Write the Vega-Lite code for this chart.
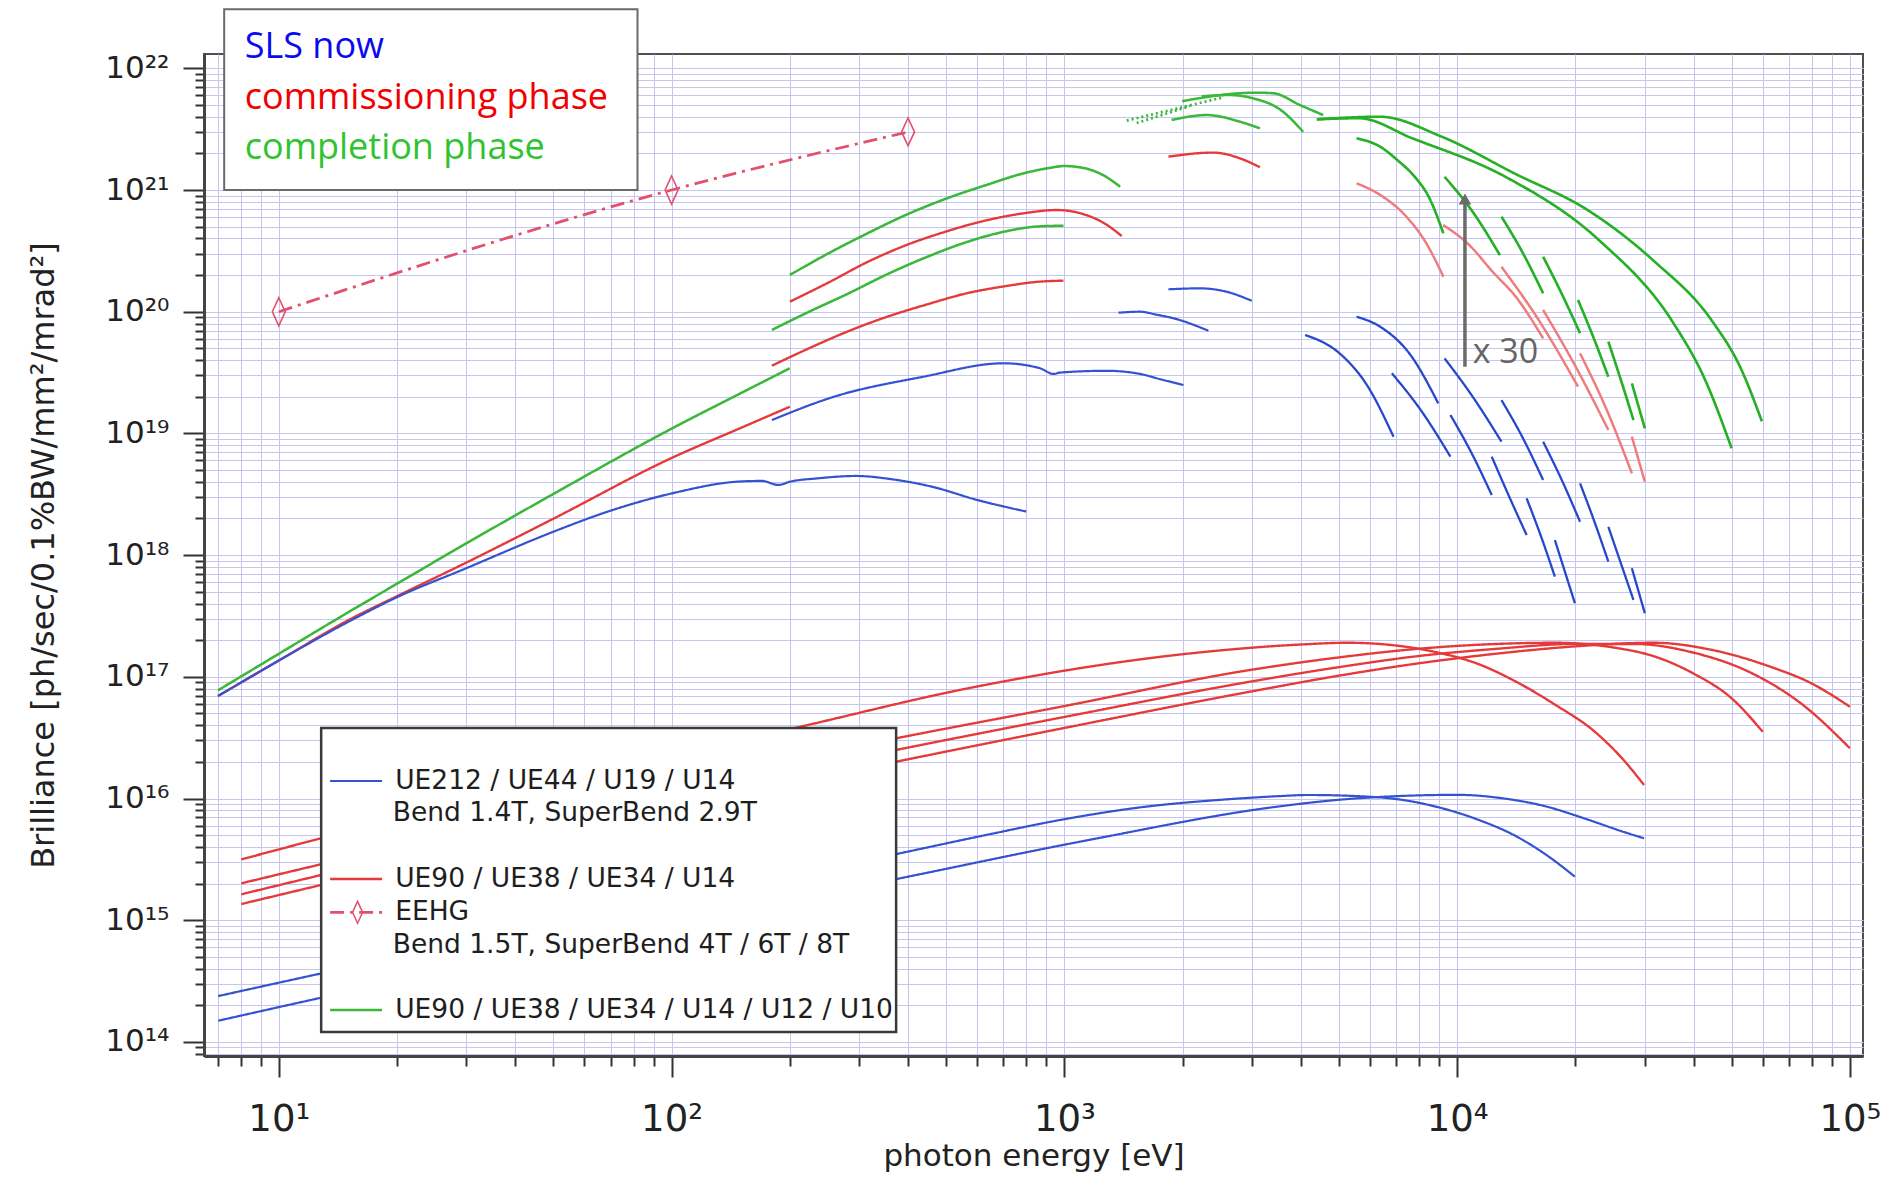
{
"$schema": "https://vega.github.io/schema/vega-lite/v6.json",
"width": 1659, "height": 1002,
"autosize": {"type": "none"},
"padding": {"left": 204, "top": 54, "right": 23, "bottom": 121},
"background": "white",
"config": {"view": {"stroke": "#505050", "strokeWidth": 2}},
"datasets": {
"curves": [
{"s":"g_low","g":"compl","E":7,"B":7.74e16},{"s":"g_low","g":"compl","E":10,"B":1.545e17},{"s":"g_low","g":"compl","E":15,"B":3.38e17},{"s":"g_low","g":"compl","E":20,"B":5.82e17},{"s":"g_low","g":"compl","E":30,"B":1.247e18},{"s":"g_low","g":"compl","E":50,"B":3.18e18},{"s":"g_low","g":"compl","E":100,"B":1.094e19},{"s":"g_low","g":"compl","E":150,"B":2.14e19},{"s":"g_low","g":"compl","E":200,"B":3.43e19},
{"s":"r_low","g":"comm","E":7,"B":6.95e16},{"s":"r_low","g":"comm","E":10,"B":1.36e17},{"s":"r_low","g":"comm","E":15,"B":2.91e17},{"s":"r_low","g":"comm","E":20,"B":4.6e17},{"s":"r_low","g":"comm","E":30,"B":8.67e17},{"s":"r_low","g":"comm","E":50,"B":1.99e18},{"s":"r_low","g":"comm","E":100,"B":6.28e18},{"s":"r_low","g":"comm","E":150,"B":1.109e19},{"s":"r_low","g":"comm","E":200,"B":1.656e19},
{"s":"b_low","g":"now","E":7,"B":6.95e16},{"s":"b_low","g":"now","E":10,"B":1.36e17},{"s":"b_low","g":"now","E":15,"B":2.82e17},{"s":"b_low","g":"now","E":20,"B":4.51e17},{"s":"b_low","g":"now","E":30,"B":7.8e17},{"s":"b_low","g":"now","E":50,"B":1.556e18},{"s":"b_low","g":"now","E":70,"B":2.32e18},{"s":"b_low","g":"now","E":100,"B":3.21e18},{"s":"b_low","g":"now","E":150,"B":4.03e18},{"s":"b_low","g":"now","E":170,"B":4.07e18},{"s":"b_low","g":"now","E":187,"B":3.77e18},{"s":"b_low","g":"now","E":200,"B":4.01e18},{"s":"b_low","g":"now","E":235,"B":4.27e18},{"s":"b_low","g":"now","E":295,"B":4.47e18},{"s":"b_low","g":"now","E":364,"B":4.2e18},{"s":"b_low","g":"now","E":460,"B":3.65e18},{"s":"b_low","g":"now","E":600,"B":2.84e18},{"s":"b_low","g":"now","E":800,"B":2.28e18},
{"s":"g_up2","g":"compl","E":200,"B":2.004e20},{"s":"g_up2","g":"compl","E":251,"B":3.02e20},{"s":"g_up2","g":"compl","E":316,"B":4.42e20},{"s":"g_up2","g":"compl","E":398,"B":6.31e20},{"s":"g_up2","g":"compl","E":501,"B":8.51e20},{"s":"g_up2","g":"compl","E":631,"B":1.096e21},{"s":"g_up2","g":"compl","E":794,"B":1.38e21},{"s":"g_up2","g":"compl","E":912,"B":1.514e21},{"s":"g_up2","g":"compl","E":1000,"B":1.574e21},{"s":"g_up2","g":"compl","E":1122,"B":1.514e21},{"s":"g_up2","g":"compl","E":1259,"B":1.318e21},{"s":"g_up2","g":"compl","E":1387,"B":1.064e21},
{"s":"r_up2","g":"comm","E":200,"B":1.208e20},{"s":"r_up2","g":"comm","E":251,"B":1.738e20},{"s":"r_up2","g":"comm","E":316,"B":2.57e20},{"s":"r_up2","g":"comm","E":398,"B":3.55e20},{"s":"r_up2","g":"comm","E":501,"B":4.57e20},{"s":"r_up2","g":"comm","E":631,"B":5.62e20},{"s":"r_up2","g":"comm","E":794,"B":6.46e20},{"s":"r_up2","g":"comm","E":955,"B":6.85e20},{"s":"r_up2","g":"comm","E":1122,"B":6.31e20},{"s":"r_up2","g":"comm","E":1259,"B":5.37e20},{"s":"r_up2","g":"comm","E":1400,"B":4.19e20},
{"s":"g_mid","g":"compl","E":180,"B":7.08e19},{"s":"g_mid","g":"compl","E":224,"B":1.0e20},{"s":"g_mid","g":"compl","E":282,"B":1.413e20},{"s":"g_mid","g":"compl","E":355,"B":2.04e20},{"s":"g_mid","g":"compl","E":447,"B":2.82e20},{"s":"g_mid","g":"compl","E":562,"B":3.72e20},{"s":"g_mid","g":"compl","E":708,"B":4.57e20},{"s":"g_mid","g":"compl","E":851,"B":5.01e20},{"s":"g_mid","g":"compl","E":995,"B":5.09e20},
{"s":"r_mid","g":"comm","E":180,"B":3.6e19},{"s":"r_mid","g":"comm","E":224,"B":5.01e19},{"s":"r_mid","g":"comm","E":282,"B":6.92e19},{"s":"r_mid","g":"comm","E":355,"B":9.12e19},{"s":"r_mid","g":"comm","E":447,"B":1.148e20},{"s":"r_mid","g":"comm","E":562,"B":1.413e20},{"s":"r_mid","g":"comm","E":708,"B":1.622e20},{"s":"r_mid","g":"comm","E":851,"B":1.758e20},{"s":"r_mid","g":"comm","E":995,"B":1.8e20},
{"s":"b_mid","g":"now","E":180,"B":1.288e19},{"s":"b_mid","g":"now","E":259,"B":2.0e19},{"s":"b_mid","g":"now","E":437,"B":2.92e19},{"s":"b_mid","g":"now","E":700,"B":3.77e19},{"s":"b_mid","g":"now","E":867,"B":3.43e19},{"s":"b_mid","g":"now","E":938,"B":3.08e19},{"s":"b_mid","g":"now","E":975,"B":3.16e19},{"s":"b_mid","g":"now","E":1282,"B":3.27e19},{"s":"b_mid","g":"now","E":1560,"B":3.08e19},{"s":"b_mid","g":"now","E":1754,"B":2.79e19},{"s":"b_mid","g":"now","E":2010,"B":2.5e19},
{"s":"b_arcA","g":"now","E":1374,"B":9.82e19},{"s":"b_arcA","g":"now","E":1560,"B":1.0e20},{"s":"b_arcA","g":"now","E":1718,"B":9.45e19},{"s":"b_arcA","g":"now","E":1897,"B":8.83e19},{"s":"b_arcA","g":"now","E":2328,"B":6.98e19},
{"s":"b_arcB","g":"now","E":1841,"B":1.528e20},{"s":"b_arcB","g":"now","E":2213,"B":1.556e20},{"s":"b_arcB","g":"now","E":2588,"B":1.459e20},{"s":"b_arcB","g":"now","E":3000,"B":1.23e20},
{"s":"r_arc","g":"comm","E":1841,"B":1.879e21},{"s":"r_arc","g":"comm","E":2393,"B":2.03e21},{"s":"r_arc","g":"comm","E":2800,"B":1.82e21},{"s":"r_arc","g":"comm","E":3148,"B":1.538e21},
{"s":"g_arc","g":"compl","E":1875,"B":3.76e21},{"s":"g_arc","g":"compl","E":2307,"B":4.13e21},{"s":"g_arc","g":"compl","E":2800,"B":3.64e21},{"s":"g_arc","g":"compl","E":3148,"B":3.21e21},
{"s":"g_dot1","g":"compl_dot","E":1442,"B":3.72e21},{"s":"g_dot1","g":"compl_dot","E":2541,"B":5.78e21},
{"s":"g_dot2","g":"compl_dot","E":1528,"B":3.55e21},{"s":"g_dot2","g":"compl_dot","E":2089,"B":4.9e21},
{"s":"g_topA","g":"compl","E":1995,"B":5.37e21},{"s":"g_topA","g":"compl","E":2800,"B":6.24e21},{"s":"g_topA","g":"compl","E":3090,"B":6.31e21},{"s":"g_topA","g":"compl","E":3404,"B":6.24e21},{"s":"g_topA","g":"compl","E":3981,"B":4.99e21},{"s":"g_topA","g":"compl","E":4560,"B":4.13e21},
{"s":"g_topB","g":"compl","E":2239,"B":5.89e21},{"s":"g_topB","g":"compl","E":2630,"B":6.03e21},{"s":"g_topB","g":"compl","E":3027,"B":5.66e21},{"s":"g_topB","g":"compl","E":3548,"B":4.57e21},{"s":"g_topB","g":"compl","E":4055,"B":3.01e21},
{"s":"g_c1","g":"compl_hx","E":4395,"B":3.81e21},{"s":"g_c1","g":"compl_hx","E":6368,"B":4.0e21},{"s":"g_c1","g":"compl_hx","E":9120,"B":2.75e21},{"s":"g_c1","g":"compl_hx","E":14125,"B":1.349e21},{"s":"g_c1","g":"compl_hx","E":21380,"B":6.92e20},{"s":"g_c1","g":"compl_hx","E":31620,"B":2.63e20},{"s":"g_c1","g":"compl_hx","E":44670,"B":8.32e19},{"s":"g_c1","g":"compl_hx","E":52480,"B":3.55e19},{"s":"g_c1","g":"compl_hx","E":59700,"B":1.259e19},
{"s":"g_c2","g":"compl_hx","E":4395,"B":3.81e21},{"s":"g_c2","g":"compl_hx","E":5623,"B":3.89e21},{"s":"g_c2","g":"compl_hx","E":7691,"B":2.66e21},{"s":"g_c2","g":"compl_hx","E":13270,"B":1.285e21},{"s":"g_c2","g":"compl_hx","E":22960,"B":3.88e20},{"s":"g_c2","g":"compl_hx","E":35560,"B":8.04e19},{"s":"g_c2","g":"compl_hx","E":42660,"B":2.82e19},{"s":"g_c2","g":"compl_hx","E":50000,"B":7.55e18},
{"s":"g_c3","g":"compl_hx","E":5546,"B":2.66e21},{"s":"g_c3","g":"compl_hx","E":6368,"B":2.27e21},{"s":"g_c3","g":"compl_hx","E":7079,"B":1.738e21},{"s":"g_c3","g":"compl_hx","E":7745,"B":1.318e21},{"s":"g_c3","g":"compl_hx","E":8511,"B":8.51e20},{"s":"g_c3","g":"compl_hx","E":9226,"B":4.41e20},
{"s":"g_d1","g":"compl_hx","E":9290,"B":1.285e21},{"s":"g_d1","g":"compl_hx","E":10960,"B":6.61e20},{"s":"g_d1","g":"compl_hx","E":12850,"B":2.92e20},
{"s":"g_d2","g":"compl_hx","E":12970,"B":6.04e20},{"s":"g_d2","g":"compl_hx","E":14660,"B":3.09e20},{"s":"g_d2","g":"compl_hx","E":16560,"B":1.416e20},
{"s":"g_d3","g":"compl_hx","E":16560,"B":2.83e20},{"s":"g_d3","g":"compl_hx","E":18450,"B":1.413e20},{"s":"g_d3","g":"compl_hx","E":20560,"B":6.65e19},
{"s":"g_d4","g":"compl_hx","E":20320,"B":1.247e20},{"s":"g_d4","g":"compl_hx","E":22230,"B":6.17e19},{"s":"g_d4","g":"compl_hx","E":24270,"B":2.92e19},
{"s":"g_d5","g":"compl_hx","E":24270,"B":5.68e19},{"s":"g_d5","g":"compl_hx","E":26120,"B":2.75e19},{"s":"g_d5","g":"compl_hx","E":28120,"B":1.288e19},
{"s":"g_d6","g":"compl_hx","E":27860,"B":2.58e19},{"s":"g_d6","g":"compl_hx","E":30060,"B":1.102e19},
{"s":"p1","g":"comm_hx","E":5546,"B":1.135e21},{"s":"p1","g":"comm_hx","E":6368,"B":9.12e20},{"s":"p1","g":"comm_hx","E":7430,"B":6.03e20},{"s":"p1","g":"comm_hx","E":8318,"B":3.72e20},{"s":"p1","g":"comm_hx","E":9226,"B":1.941e20},
{"s":"p2","g":"comm_hx","E":9226,"B":5.15e20},{"s":"p2","g":"comm_hx","E":10720,"B":3.55e20},{"s":"p2","g":"comm_hx","E":12300,"B":2.14e20},{"s":"p2","g":"comm_hx","E":14130,"B":1.318e20},{"s":"p2","g":"comm_hx","E":16560,"B":6.04e19},
{"s":"p3","g":"comm_hx","E":12970,"B":2.34e20},{"s":"p3","g":"comm_hx","E":16220,"B":8.32e19},{"s":"p3","g":"comm_hx","E":20320,"B":2.42e19},
{"s":"p4","g":"comm_hx","E":16560,"B":1.033e20},{"s":"p4","g":"comm_hx","E":19950,"B":3.63e19},{"s":"p4","g":"comm_hx","E":24270,"B":1.067e19},
{"s":"p5","g":"comm_hx","E":20560,"B":4.55e19},{"s":"p5","g":"comm_hx","E":23990,"B":1.585e19},{"s":"p5","g":"comm_hx","E":27860,"B":4.7e18},
{"s":"p6","g":"comm_hx","E":27860,"B":9.4e18},{"s":"p6","g":"comm_hx","E":30060,"B":4.01e18},
{"s":"b_a","g":"now_hx","E":4102,"B":6.44e19},{"s":"b_a","g":"now_hx","E":5012,"B":4.57e19},{"s":"b_a","g":"now_hx","E":5888,"B":2.51e19},{"s":"b_a","g":"now_hx","E":6887,"B":9.4e18},
{"s":"b_b","g":"now_hx","E":5546,"B":9.1e19},{"s":"b_b","g":"now_hx","E":6368,"B":7.53e19},{"s":"b_b","g":"now_hx","E":7586,"B":4.47e19},{"s":"b_b","g":"now_hx","E":8954,"B":1.766e19},
{"s":"b_c","g":"now_hx","E":6823,"B":3.12e19},{"s":"b_c","g":"now_hx","E":8128,"B":1.514e19},{"s":"b_c","g":"now_hx","E":9616,"B":6.44e18},
{"s":"b_d","g":"now_hx","E":9290,"B":4.14e19},{"s":"b_d","g":"now_hx","E":10960,"B":2.0e19},{"s":"b_d","g":"now_hx","E":12970,"B":8.55e18},
{"s":"b_e","g":"now_hx","E":9616,"B":1.416e19},{"s":"b_e","g":"now_hx","E":10840,"B":7.08e18},{"s":"b_e","g":"now_hx","E":12250,"B":3.12e18},
{"s":"b_f","g":"now_hx","E":12970,"B":1.879e19},{"s":"b_f","g":"now_hx","E":14660,"B":9.33e18},{"s":"b_f","g":"now_hx","E":16560,"B":4.14e18},
{"s":"b_g","g":"now_hx","E":12250,"B":6.44e18},{"s":"b_g","g":"now_hx","E":13490,"B":3.16e18},{"s":"b_g","g":"now_hx","E":15030,"B":1.462e18},
{"s":"b_h","g":"now_hx","E":16560,"B":8.55e18},{"s":"b_h","g":"now_hx","E":18450,"B":4.17e18},{"s":"b_h","g":"now_hx","E":20560,"B":1.879e18},
{"s":"b_i","g":"now_hx","E":15030,"B":2.93e18},{"s":"b_i","g":"now_hx","E":16330,"B":1.445e18},{"s":"b_i","g":"now_hx","E":17740,"B":6.65e17},
{"s":"b_j","g":"now_hx","E":20560,"B":3.89e18},{"s":"b_j","g":"now_hx","E":22340,"B":1.905e18},{"s":"b_j","g":"now_hx","E":24270,"B":8.83e17},
{"s":"b_k","g":"now_hx","E":17740,"B":1.33e18},{"s":"b_k","g":"now_hx","E":19950,"B":4.02e17},
{"s":"b_l","g":"now_hx","E":24270,"B":1.71e18},{"s":"b_l","g":"now_hx","E":28120,"B":4.28e17},
{"s":"b_m","g":"now_hx","E":27860,"B":7.8e17},{"s":"b_m","g":"now_hx","E":30060,"B":3.33e17},
{"s":"r_bm1","g":"comm","E":8.03,"B":3.16e15},{"s":"r_bm1","g":"comm","E":12.8,"B":4.71e15},{"s":"r_bm1","g":"comm","E":213,"B":3.89e16},{"s":"r_bm1","g":"comm","E":568,"B":8.04e16},{"s":"r_bm1","g":"comm","E":2104,"B":1.56e17},{"s":"r_bm1","g":"comm","E":3981,"B":1.841e17},{"s":"r_bm1","g":"comm","E":5248,"B":1.905e17},{"s":"r_bm1","g":"comm","E":7079,"B":1.799e17},{"s":"r_bm1","g":"comm","E":8913,"B":1.585e17},{"s":"r_bm1","g":"comm","E":11220,"B":1.288e17},{"s":"r_bm1","g":"comm","E":14130,"B":9.12e16},{"s":"r_bm1","g":"comm","E":17780,"B":5.89e16},{"s":"r_bm1","g":"comm","E":22390,"B":3.55e16},{"s":"r_bm1","g":"comm","E":26300,"B":2.14e16},{"s":"r_bm1","g":"comm","E":29920,"B":1.291e16},
{"s":"r_bm2","g":"comm","E":8.03,"B":2.01e15},{"s":"r_bm2","g":"comm","E":12.8,"B":2.88e15},{"s":"r_bm2","g":"comm","E":374,"B":3.13e16},{"s":"r_bm2","g":"comm","E":1000,"B":5.75e16},{"s":"r_bm2","g":"comm","E":2972,"B":1.138e17},{"s":"r_bm2","g":"comm","E":5012,"B":1.445e17},{"s":"r_bm2","g":"comm","E":7943,"B":1.698e17},{"s":"r_bm2","g":"comm","E":12590,"B":1.862e17},{"s":"r_bm2","g":"comm","E":17780,"B":1.905e17},{"s":"r_bm2","g":"comm","E":25120,"B":1.738e17},{"s":"r_bm2","g":"comm","E":31620,"B":1.479e17},{"s":"r_bm2","g":"comm","E":39810,"B":1.072e17},{"s":"r_bm2","g":"comm","E":50120,"B":6.61e16},{"s":"r_bm2","g":"comm","E":59980,"B":3.54e16},
{"s":"r_bm3","g":"comm","E":8.03,"B":1.633e15},{"s":"r_bm3","g":"comm","E":12.8,"B":2.35e15},{"s":"r_bm3","g":"comm","E":374,"B":2.51e16},{"s":"r_bm3","g":"comm","E":1000,"B":4.68e16},{"s":"r_bm3","g":"comm","E":2972,"B":9.12e16},{"s":"r_bm3","g":"comm","E":5012,"B":1.202e17},{"s":"r_bm3","g":"comm","E":7943,"B":1.479e17},{"s":"r_bm3","g":"comm","E":12590,"B":1.698e17},{"s":"r_bm3","g":"comm","E":19950,"B":1.862e17},{"s":"r_bm3","g":"comm","E":28180,"B":1.862e17},{"s":"r_bm3","g":"comm","E":39810,"B":1.585e17},{"s":"r_bm3","g":"comm","E":56230,"B":1.072e17},{"s":"r_bm3","g":"comm","E":75860,"B":5.89e16},{"s":"r_bm3","g":"comm","E":100000,"B":2.59e16},
{"s":"r_bm4","g":"comm","E":8.03,"B":1.358e15},{"s":"r_bm4","g":"comm","E":12.8,"B":1.945e15},{"s":"r_bm4","g":"comm","E":374,"B":2.01e16},{"s":"r_bm4","g":"comm","E":1000,"B":3.8e16},{"s":"r_bm4","g":"comm","E":2972,"B":7.55e16},{"s":"r_bm4","g":"comm","E":5012,"B":1.023e17},{"s":"r_bm4","g":"comm","E":7943,"B":1.288e17},{"s":"r_bm4","g":"comm","E":12590,"B":1.549e17},{"s":"r_bm4","g":"comm","E":19950,"B":1.778e17},{"s":"r_bm4","g":"comm","E":31620,"B":1.905e17},{"s":"r_bm4","g":"comm","E":44670,"B":1.66e17},{"s":"r_bm4","g":"comm","E":63100,"B":1.202e17},{"s":"r_bm4","g":"comm","E":79430,"B":8.91e16},{"s":"r_bm4","g":"comm","E":100000,"B":5.68e16},
{"s":"b_bm1","g":"now","E":7.01,"B":2.38e14},{"s":"b_bm1","g":"now","E":12.6,"B":3.61e14},{"s":"b_bm1","g":"now","E":382,"B":3.55e15},{"s":"b_bm1","g":"now","E":631,"B":5.01e15},{"s":"b_bm1","g":"now","E":1000,"B":6.76e15},{"s":"b_bm1","g":"now","E":1585,"B":8.51e15},{"s":"b_bm1","g":"now","E":2512,"B":9.77e15},{"s":"b_bm1","g":"now","E":3548,"B":1.047e16},{"s":"b_bm1","g":"now","E":4169,"B":1.069e16},{"s":"b_bm1","g":"now","E":6310,"B":1.023e16},{"s":"b_bm1","g":"now","E":8913,"B":8.51e15},{"s":"b_bm1","g":"now","E":11220,"B":6.76e15},{"s":"b_bm1","g":"now","E":14130,"B":4.9e15},{"s":"b_bm1","g":"now","E":16980,"B":3.39e15},{"s":"b_bm1","g":"now","E":19950,"B":2.28e15},
{"s":"b_bm2","g":"now","E":7.01,"B":1.493e14},{"s":"b_bm2","g":"now","E":12.6,"B":2.28e14},{"s":"b_bm2","g":"now","E":382,"B":2.21e15},{"s":"b_bm2","g":"now","E":1153,"B":4.56e15},{"s":"b_bm2","g":"now","E":3483,"B":8.57e15},{"s":"b_bm2","g":"now","E":5012,"B":9.77e15},{"s":"b_bm2","g":"now","E":7079,"B":1.047e16},{"s":"b_bm2","g":"now","E":10000,"B":1.072e16},{"s":"b_bm2","g":"now","E":13180,"B":1.0e16},{"s":"b_bm2","g":"now","E":16600,"B":8.71e15},{"s":"b_bm2","g":"now","E":21380,"B":6.76e15},{"s":"b_bm2","g":"now","E":26300,"B":5.37e15},{"s":"b_bm2","g":"now","E":29920,"B":4.71e15},
{"s":"eehg","g":"eehg","E":10,"B":1e20},{"s":"eehg","g":"eehg","E":100,"B":1e21},{"s":"eehg","g":"eehg","E":400,"B":3e21}
],
"legbox": [{"E":12.82,"E2":373,"B":3.79e16,"B2":1.205e14}],
"leglines": [
{"g":"now","E":13.51,"E2":18.32,"B":1.393e16},
{"g":"comm","E":13.51,"E2":18.32,"B":2.18e15},
{"g":"eehg","E":13.51,"E2":18.32,"B":1.161e15},
{"g":"compl","E":13.51,"E2":18.32,"B":1.828e14}],
"legdiamond": [{"E":15.87,"B":1.161e15}],
"legtext": [
{"t":"UE212 / UE44 / U19 /  U14","E":19.78,"B":1.393e16},
{"t":"Bend 1.4T, SuperBend 2.9T","E":19.5,"B":7.55e15},
{"t":"UE90 / UE38 / UE34 / U14","E":19.78,"B":2.18e15},
{"t":"EEHG","E":19.78,"B":1.161e15},
{"t":"Bend 1.5T, SuperBend 4T / 6T / 8T","E":19.5,"B":6.25e14},
{"t":"UE90 / UE38 / UE34 / U14 / U12 / U10","E":19.78,"B":1.828e14}],
"topbox": [{"E":7.26,"E2":81.9,"B":1e21,"B2":3.05e22}],
"toptext": [
{"k":"now","t":"SLS now","E":8.19,"B":1.503e22},
{"k":"comm","t":"commissioning phase","E":8.19,"B":5.66e21},
{"k":"compl","t":"completion phase","E":8.19,"B":2.2e21}],
"arrow": [{"E":10470,"B":3.53e19,"B2":8.43e20}],
"arrowhead": [{"E":10470,"B":8.43e20}],
"arrowtext": [{"t":"x 30","E":10960,"B":4.58e19}]
},
"encoding": {
"x": {"field": "E", "type": "quantitative",
 "scale": {"type": "log", "domain": [6.45, 108000], "nice": false},
 "axis": {
  "title": "photon energy [eV]",
  "values": [7,8,9,10,20,30,40,50,60,70,80,90,100,200,300,400,500,600,700,800,900,1000,2000,3000,4000,5000,6000,7000,8000,9000,10000,20000,30000,40000,50000,60000,70000,80000,90000,100000],
  "labelExpr": "datum.value==10?'10¹':datum.value==100?'10²':datum.value==1000?'10³':datum.value==10000?'10⁴':datum.value==100000?'10⁵':''",
  "grid": true, "gridColor": "#c6c6f0", "gridWidth": 1,
  "tickColor": "#333333", "tickWidth": 2,
  "tickSize": {"condition": {"test": "abs(log(datum.value)/LN10-round(log(datum.value)/LN10))<0.0001", "value": 21}, "value": 10},
  "domainColor": "#444444", "domainWidth": 3,
  "labelFont": "DejaVu Sans", "labelFontSize": 37, "labelColor": "#222222", "labelPadding": 24,
  "labelFlush": false, "labelOverlap": false, "labelBound": false,
  "titleFont": "DejaVu Sans", "titleFontSize": 31, "titleFontWeight": "normal", "titleColor": "#222222", "titlePadding": 4
 }},
"y": {"field": "B", "type": "quantitative",
 "scale": {"type": "log", "domain": [7.66e13, 1.311e22], "nice": false},
 "axis": {
  "title": "Brilliance [ph/sec/0.1%BW/mm²/mrad²]",
  "values": [8e13,9e13,1e14,2e14,3e14,4e14,5e14,6e14,7e14,8e14,9e14,1e15,2e15,3e15,4e15,5e15,6e15,7e15,8e15,9e15,1e16,2e16,3e16,4e16,5e16,6e16,7e16,8e16,9e16,1e17,2e17,3e17,4e17,5e17,6e17,7e17,8e17,9e17,1e18,2e18,3e18,4e18,5e18,6e18,7e18,8e18,9e18,1e19,2e19,3e19,4e19,5e19,6e19,7e19,8e19,9e19,1e20,2e20,3e20,4e20,5e20,6e20,7e20,8e20,9e20,1e21,2e21,3e21,4e21,5e21,6e21,7e21,8e21,9e21,1e22],
  "labelExpr": "datum.value==1e14?'10¹⁴':datum.value==1e15?'10¹⁵':datum.value==1e16?'10¹⁶':datum.value==1e17?'10¹⁷':datum.value==1e18?'10¹⁸':datum.value==1e19?'10¹⁹':datum.value==1e20?'10²⁰':datum.value==1e21?'10²¹':datum.value==1e22?'10²²':''",
  "grid": true, "gridColor": "#c6c6f0", "gridWidth": 1,
  "tickColor": "#333333", "tickWidth": 2,
  "tickSize": {"condition": {"test": "abs(log(datum.value)/LN10-round(log(datum.value)/LN10))<0.0001", "value": 21}, "value": 9},
  "domainColor": "#444444", "domainWidth": 3,
  "labelFont": "DejaVu Sans", "labelFontSize": 31, "labelColor": "#222222", "labelPadding": 14,
  "labelOverlap": false, "labelBound": false,
  "titleFont": "DejaVu Sans", "titleFontSize": 32, "titleFontWeight": "normal", "titleColor": "#222222", "titlePadding": 44
 }}
},
"layer": [
{"data": {"name": "curves"},
 "mark": {"type": "line", "interpolate": "monotone", "strokeCap": "butt"},
 "encoding": {
  "detail": {"field": "s"},
  "color": {"field": "g", "type": "nominal", "legend": null,
   "scale": {"domain": ["now","now_hx","comm","comm_hx","compl","compl_hx","compl_dot","eehg"],
             "range": ["#3552d0","#2748cc","#e63a3a","#f07b7b","#3bb83b","#25b025","#3bb83b","#e2506c"]}},
  "strokeWidth": {"field": "g", "type": "ordinal", "legend": null,
   "scale": {"domain": ["now","now_hx","comm","comm_hx","compl","compl_hx","compl_dot","eehg"],
             "range": [2.2,2.8,2.0,2.6,2.2,3.4,2.6,2.4]}},
  "strokeDash": {"field": "g", "type": "nominal", "legend": null,
   "scale": {"domain": ["now","now_hx","comm","comm_hx","compl","compl_hx","compl_dot","eehg"],
             "range": [[1,0],[1,0],[1,0],[1,0],[1,0],[1,0],[2,3],[14,6,3,6]]}}
 }},
{"data": {"name": "curves"},
 "transform": [{"filter": "datum.g === 'eehg'"}],
 "mark": {"type": "point", "shape": "M0,-1L0.46,0L0,1L-0.46,0Z", "filled": false, "size": 784, "strokeWidth": 1.6, "color": "#e2506c", "opacity": 1}},
{"data": {"name": "legbox"},
 "mark": {"type": "rect", "fill": "white", "stroke": "#3a3a3a", "strokeWidth": 2.5},
 "encoding": {"x2": {"field": "E2"}, "y2": {"field": "B2"}}},
{"data": {"name": "leglines"},
 "mark": {"type": "rule"},
 "encoding": {
  "x2": {"field": "E2"},
  "color": {"field": "g", "type": "nominal", "legend": null},
  "strokeWidth": {"field": "g", "type": "ordinal", "legend": null},
  "strokeDash": {"field": "g", "type": "nominal", "legend": null}
 }},
{"data": {"name": "legdiamond"},
 "mark": {"type": "point", "shape": "M0,-1L0.46,0L0,1L-0.46,0Z", "filled": false, "size": 484, "strokeWidth": 1.5, "color": "#e2506c", "opacity": 1}},
{"data": {"name": "legtext"},
 "mark": {"type": "text", "align": "left", "baseline": "middle", "font": "DejaVu Sans", "fontSize": 26.5, "color": "#1e1e1e"},
 "encoding": {"text": {"field": "t"}}},
{"data": {"name": "topbox"},
 "mark": {"type": "rect", "fill": "white", "stroke": "#6a6a6a", "strokeWidth": 2},
 "encoding": {"x2": {"field": "E2"}, "y2": {"field": "B2"}}},
{"data": {"name": "toptext"},
 "transform": [{"filter": "datum.k === 'now'"}],
 "mark": {"type": "text", "align": "left", "baseline": "middle", "font": "Open Sans", "fontSize": 36, "color": "#0a0af0"},
 "encoding": {"text": {"field": "t"}}},
{"data": {"name": "toptext"},
 "transform": [{"filter": "datum.k === 'comm'"}],
 "mark": {"type": "text", "align": "left", "baseline": "middle", "font": "Open Sans", "fontSize": 36, "color": "#f00000"},
 "encoding": {"text": {"field": "t"}}},
{"data": {"name": "toptext"},
 "transform": [{"filter": "datum.k === 'compl'"}],
 "mark": {"type": "text", "align": "left", "baseline": "middle", "font": "Open Sans", "fontSize": 36, "color": "#2fc42f"},
 "encoding": {"text": {"field": "t"}}},
{"data": {"name": "arrow"},
 "mark": {"type": "rule", "color": "#6b6b6b", "strokeWidth": 3.5},
 "encoding": {"y2": {"field": "B2"}}},
{"data": {"name": "arrowhead"},
 "mark": {"type": "point", "shape": "triangle-up", "filled": true, "size": 160, "color": "#6b6b6b", "opacity": 1}},
{"data": {"name": "arrowtext"},
 "mark": {"type": "text", "align": "left", "baseline": "middle", "font": "Open Sans", "fontSize": 34, "color": "#666666"},
 "encoding": {"text": {"field": "t"}}}
]
}
